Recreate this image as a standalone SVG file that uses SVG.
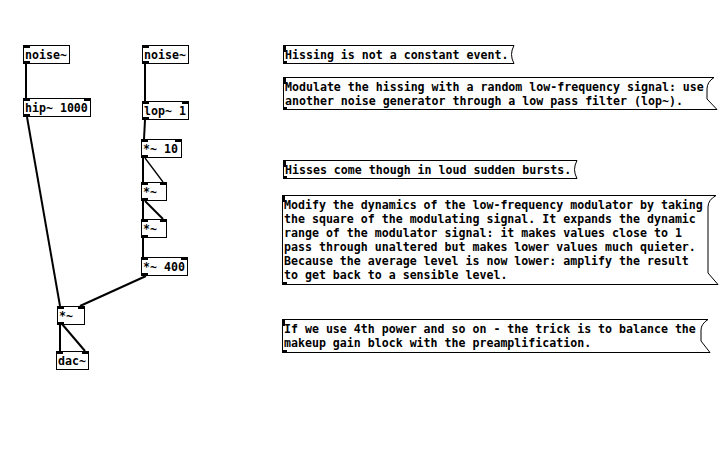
<svg xmlns="http://www.w3.org/2000/svg" width="726" height="476" viewBox="0 0 726 476">
<style>
text{font-family:"DejaVu Sans Mono","Liberation Mono",monospace;font-size:11.6px;font-weight:bold;fill:#000}
.box{fill:#fff;stroke:#000;stroke-width:1}
.io{fill:#000}
.sig{stroke:#000;stroke-width:2;fill:none}
.thin{stroke:#000;stroke-width:1.3;fill:none}
.cm{fill:#fff;stroke:#000;stroke-width:1}
</style>
<rect width="726" height="476" fill="#fff"/>
<g id="connectors">
<line class="sig" x1="26" y1="64" x2="26" y2="98"/>
<line class="sig" x1="27" y1="117" x2="60" y2="306"/>
<line class="sig" x1="145" y1="64" x2="145" y2="101"/>
<line class="sig" x1="145" y1="120" x2="144" y2="139"/>
<line class="sig" x1="143" y1="158" x2="143" y2="182"/>
<line class="thin" x1="145" y1="158" x2="163" y2="182"/>
<line class="sig" x1="143" y1="201" x2="143" y2="219"/>
<line class="sig" x1="145" y1="201" x2="163" y2="219"/>
<line class="sig" x1="143" y1="238" x2="143" y2="257"/>
<line class="sig" x1="146" y1="276" x2="80" y2="306"/>
<line class="sig" x1="60" y1="324" x2="60" y2="351"/>
<line class="sig" x1="62" y1="324" x2="85" y2="351"/>
</g>
<g id="noise1">
<rect class="box" x="23.5" y="45.5" width="46" height="18"/>
<rect class="io" x="23" y="45" width="7" height="3"/>
<rect class="io" x="23" y="61" width="7" height="3"/>
<text x="25" y="58.5">noise~</text>
</g>
<g id="noise2">
<rect class="box" x="142.5" y="45.5" width="46" height="18"/>
<rect class="io" x="142" y="45" width="7" height="3"/>
<rect class="io" x="142" y="61" width="7" height="3"/>
<text x="144" y="58.5">noise~</text>
</g>
<g id="hip">
<rect class="box" x="23.5" y="98.5" width="67" height="18"/>
<rect class="io" x="23" y="98" width="7" height="3"/>
<rect class="io" x="84" y="98" width="7" height="3"/>
<rect class="io" x="23" y="114" width="7" height="3"/>
<text x="25" y="111.5">hip~ 1000</text>
</g>
<g id="lop">
<rect class="box" x="142.5" y="101.5" width="46" height="18"/>
<rect class="io" x="142" y="101" width="7" height="3"/>
<rect class="io" x="182" y="101" width="7" height="3"/>
<rect class="io" x="142" y="117" width="7" height="3"/>
<text x="144" y="114.5">lop~ 1</text>
</g>
<g id="mul10">
<rect class="box" x="141.5" y="139.5" width="40" height="18"/>
<rect class="io" x="141" y="139" width="7" height="3"/>
<rect class="io" x="175" y="139" width="7" height="3"/>
<rect class="io" x="141" y="155" width="7" height="3"/>
<text x="143" y="152.5">*~ 10</text>
</g>
<g id="mulA">
<rect class="box" x="141.5" y="182.5" width="25" height="18"/>
<rect class="io" x="141" y="182" width="7" height="3"/>
<rect class="io" x="160" y="182" width="7" height="3"/>
<rect class="io" x="141" y="198" width="7" height="3"/>
<text x="143" y="195.5">*~</text>
</g>
<g id="mulB">
<rect class="box" x="141.5" y="219.5" width="25" height="18"/>
<rect class="io" x="141" y="219" width="7" height="3"/>
<rect class="io" x="160" y="219" width="7" height="3"/>
<rect class="io" x="141" y="235" width="7" height="3"/>
<text x="143" y="232.5">*~</text>
</g>
<g id="mul400">
<rect class="box" x="141.5" y="257.5" width="46" height="18"/>
<rect class="io" x="141" y="257" width="7" height="3"/>
<rect class="io" x="181" y="257" width="7" height="3"/>
<rect class="io" x="141" y="273" width="7" height="3"/>
<text x="143" y="270.5">*~ 400</text>
</g>
<g id="mulOut">
<rect class="box" x="57.5" y="306.5" width="27" height="18"/>
<rect class="io" x="57" y="306" width="7" height="3"/>
<rect class="io" x="78" y="306" width="7" height="3"/>
<rect class="io" x="57" y="322" width="7" height="3"/>
<text x="59" y="319.5">*~</text>
</g>
<g id="dac">
<rect class="box" x="56.5" y="351.5" width="32" height="18"/>
<rect class="io" x="56" y="351" width="7" height="3"/>
<rect class="io" x="82" y="351" width="7" height="3"/>
<text x="58" y="364.5">dac~</text>
</g>
<g id="comment1">
<path class="cm" d="M283.5 45.5 H514 Q509 54.5 514 63.5 H283.5 Z"/>
<rect class="io" x="283" y="45" width="3" height="7"/>
<rect class="io" x="283" y="61" width="4" height="3"/>
<text x="285" y="58.5">Hissing is not a constant event.</text>
</g>
<g id="comment2">
<path class="cm" d="M283.5 77.5 H714 Q707 82 707 89 V99 L717 109.5 H283.5 Z"/>
<rect class="io" x="283" y="77" width="3" height="7"/>
<rect class="io" x="283" y="107" width="4" height="3"/>
<text x="285" y="90.5">Modulate the hissing with a random low-frequency signal: use</text>
<text x="285" y="104.5">another noise generator through a low pass filter (lop~).</text>
</g>
<g id="comment3">
<path class="cm" d="M283.5 160.5 H577 Q572 169.5 577 178.5 H283.5 Z"/>
<rect class="io" x="283" y="160" width="3" height="7"/>
<rect class="io" x="283" y="176" width="4" height="3"/>
<text x="285" y="173.5">Hisses come though in loud sudden bursts.</text>
</g>
<g id="comment4">
<path class="cm" d="M282.5 195.5 H716 Q708 200 708 207 V273 L718 284.5 H282.5 Z"/>
<rect class="io" x="282" y="195" width="3" height="7"/>
<rect class="io" x="282" y="282" width="5" height="3"/>
<text x="284" y="209">Modify the dynamics of the low-frequency modulator by taking</text>
<text x="284" y="223">the square of the modulating signal. It expands the dynamic</text>
<text x="284" y="237">range of the modulator signal: it makes values close to 1</text>
<text x="284" y="251">pass through unaltered but makes lower values much quieter.</text>
<text x="284" y="265">Because the average level is now lower: amplify the result</text>
<text x="284" y="279">to get back to a sensible level.</text>
</g>
<g id="comment5">
<path class="cm" d="M282.5 319.5 H708 Q701 324 701 330 V341 L710 352.5 H282.5 Z"/>
<rect class="io" x="282" y="319" width="3" height="7"/>
<rect class="io" x="282" y="350" width="5" height="3"/>
<text x="284" y="332.5">If we use 4th power and so on - the trick is to balance the</text>
<text x="284" y="346.5">makeup gain block with the preamplification.</text>
</g>
</svg>
